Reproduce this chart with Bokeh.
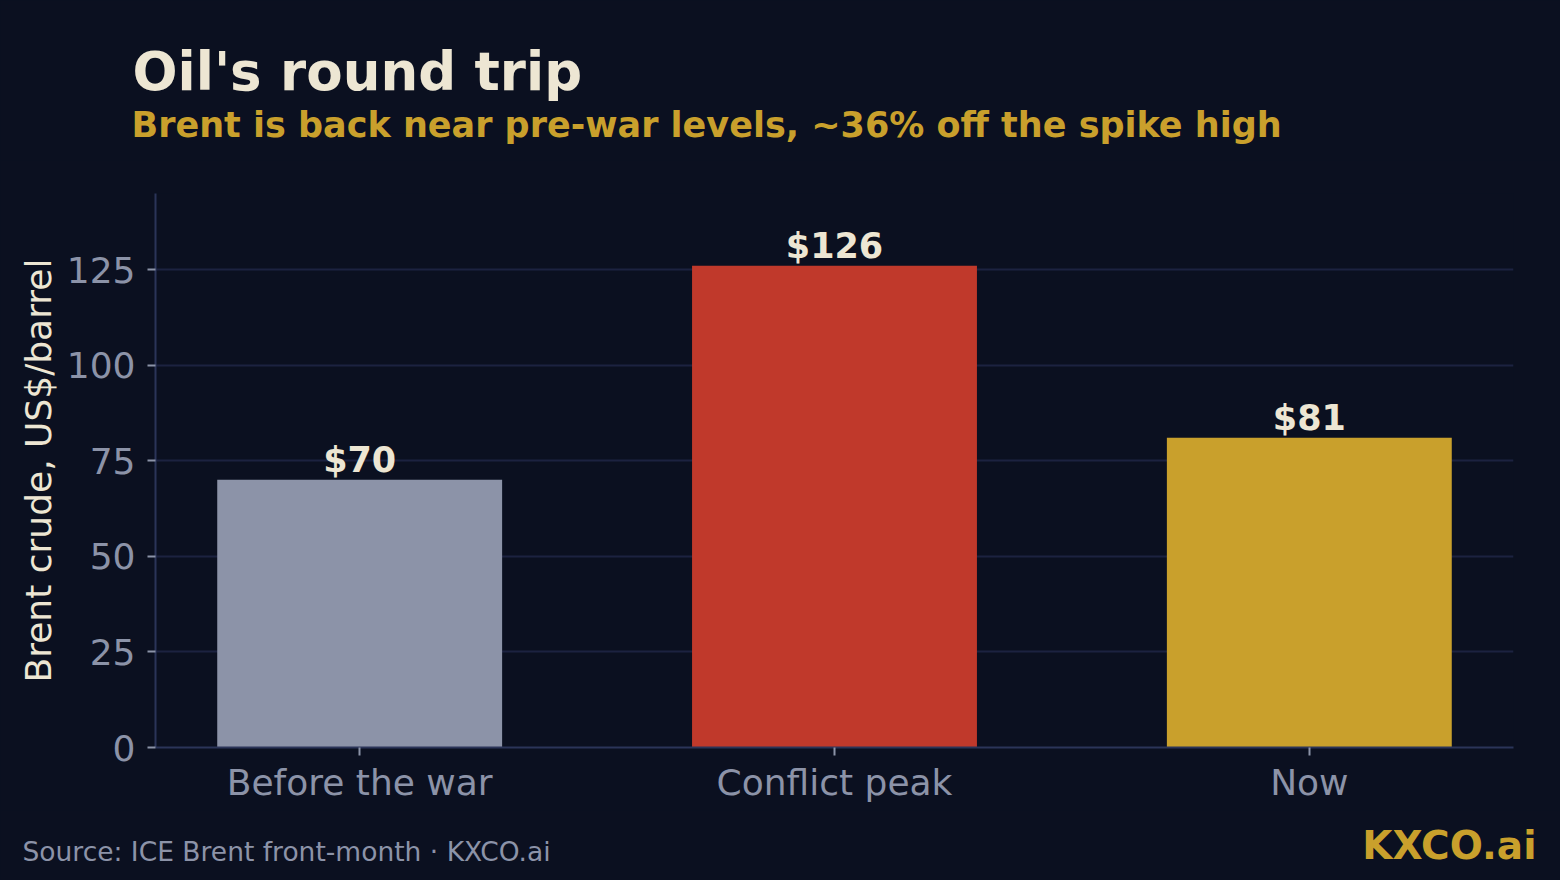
from bokeh.plotting import figure
from bokeh.layouts import column
from bokeh.models import FixedTicker, Range1d, ColumnDataSource
from bokeh.core.properties import value
from bokeh.embed import file_html
from bokeh.resources import INLINE

# ---- data ----
categories = ["Before the war", "Conflict peak", "Now"]
prices = [70, 126, 81]
bar_colors = ["#8c93a8", "#c0392b", "#c9a02c"]
value_labels = [f"${v}" for v in prices]
y_ticks = [0, 25, 50, 75, 100, 125]

title_text = "Oil's round trip"
subtitle_text = "Brent is back near pre-war levels, ~36% off the spike high"
source_text = "Source: ICE Brent front-month \u00b7 KXCO.ai"
brand_text = "KXCO.ai"
y_label = "Brent crude, US$/barrel"

BG = "#0b1020"
CREAM = "#ede6d3"
GREY = "#8c93a8"
GOLD = "#c9a02c"
FONT = "DejaVu Sans"
W = 1560
H_TOP, H_MAIN, H_BOT = 160, 650, 70
BASE_K = 0.37  # empirical shift of the alphabetic baseline in the svg text glyph


def text_panel(height, items):
    f = figure(width=W, height=height, x_range=Range1d(0, W), y_range=Range1d(height, 0),
               output_backend="svg", toolbar_location=None,
               x_axis_type=None, y_axis_type=None, min_border=0)
    f.frame_align = False
    f.background_fill_color = BG
    f.border_fill_color = BG
    f.outline_line_color = None
    f.grid.visible = False
    for (x, y, text, size, color, bold, align) in items:
        f.text(x=[x], y=[y - BASE_K * size], text=[text],
               text_font=value(FONT), text_font_style="bold" if bold else "normal",
               text_font_size=f"{size}px", text_color=color,
               text_baseline="alphabetic", text_align=align)
    return f


header = text_panel(H_TOP, [
    (132, 91, title_text, 53, CREAM, True, "left"),
    (131, 137, subtitle_text, 35, GOLD, True, "left"),
])
footer = text_panel(H_BOT, [
    (22, 861 - (H_TOP + H_MAIN), source_text, 26.5, GREY, False, "left"),
    (1536, 859 - (H_TOP + H_MAIN), brand_text, 39, GOLD, True, "right"),
])

xpos = list(range(len(categories)))
src = ColumnDataSource(dict(x=xpos, price=prices, color=bar_colors, lab=value_labels))

p = figure(
    width=W, height=H_MAIN,
    x_range=Range1d(-0.43, len(categories) - 1 + 0.43),
    y_range=Range1d(0, 144.9),
    output_backend="svg", toolbar_location=None,
    min_border_left=155, min_border_right=47,
    min_border_top=193 - H_TOP, min_border_bottom=H_TOP + H_MAIN - 747,
)
p.frame_align = False
p.background_fill_color = BG
p.border_fill_color = BG
p.outline_line_color = None

p.vbar(x="x", top="price", width=0.6, fill_color="color", line_color=None, source=src)
p.text(x="x", y="price", text="lab", source=src, y_offset=-(7 + BASE_K * 35),
       text_align="center", text_baseline="alphabetic",
       text_font=value(FONT), text_font_style="bold", text_font_size="35px",
       text_color=CREAM)

# grid
p.xgrid.grid_line_color = None
p.ygrid.grid_line_color = "#1c2240"
p.ygrid.grid_line_width = 2

# axes
p.yaxis.ticker = FixedTicker(ticks=y_ticks)
p.xaxis.ticker = FixedTicker(ticks=xpos)
p.xaxis.major_label_overrides = {i: c for i, c in zip(xpos, categories)}
for ax in (p.xaxis[0], p.yaxis[0]):
    ax.axis_line_color = "#2b3458"
    ax.axis_line_width = 2
    ax.major_tick_line_color = GREY
    ax.major_tick_line_width = 2
    ax.major_tick_out = 8
    ax.major_tick_in = 0
    ax.minor_tick_line_color = None
    ax.major_label_text_font = FONT
    ax.major_label_text_font_size = "36px"
    ax.major_label_text_color = GREY
p.xaxis.major_label_standoff = 6
p.yaxis.major_label_standoff = 12
p.yaxis.axis_label = y_label
p.yaxis.axis_label_text_font = FONT
p.yaxis.axis_label_text_font_size = "36px"
p.yaxis.axis_label_text_font_style = "normal"
p.yaxis.axis_label_text_color = CREAM
p.yaxis.axis_label_standoff = 5

layout = column(header, p, footer, spacing=0)
layout.styles = {"background-color": BG}

html = file_html(layout, INLINE)
html = html.replace("</head>", "<style>html,body{margin:0;padding:0;background:#0b1020;overflow:hidden;}</style></head>", 1)
open("out.html", "w").write(html)
